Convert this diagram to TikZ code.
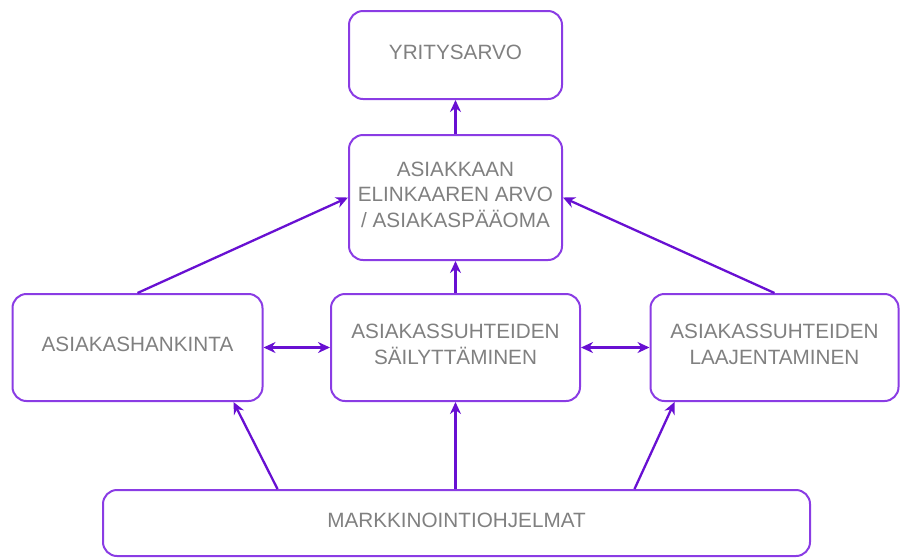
\documentclass[tikz,border=0pt]{standalone}
\usepackage{fontspec}
\setmainfont{Liberation Sans}
\usetikzlibrary{arrows.meta}
\definecolor{boxline}{RGB}{138,60,228}
\definecolor{arrowcol}{RGB}{104,16,210}
\definecolor{txt}{RGB}{128,128,128}
\tikzset{
  box/.style={draw=boxline, line width=2pt, rounded corners=14pt, align=center,
    text=txt, font=\fontsize{20.7}{25.5}\selectfont, inner sep=0pt, text depth=6pt},
  tipA/.tip={Stealth[length=12pt,width=11pt]},
  conn/.style={draw=arrowcol, line width=2.3pt, -tipA},
  dconn/.style={draw=arrowcol, line width=2.3pt, tipA-tipA}
}
\begin{document}
\begin{tikzpicture}
\useasboundingbox (0,0) rectangle (901pt,-558pt);
\begin{scope}[x=1pt,y=-1pt]
\node[box, minimum width=213pt, minimum height=88pt] (y) at (455.5,55) {YRITYSARVO};
\node[box, minimum width=213pt, minimum height=125pt] (e) at (455.5,197.5) {ASIAKKAAN\\ELINKAAREN ARVO\\/ ASIAKASPÄÄOMA};
\node[box, minimum width=250pt, minimum height=107pt] (h) at (137.5,347.5) {ASIAKASHANKINTA};
\node[box, minimum width=249pt, minimum height=107pt] (s) at (455.5,347.5) {ASIAKASSUHTEIDEN\\SÄILYTTÄMINEN};
\node[box, minimum width=248pt, minimum height=107pt] (l) at (774.5,347.5) {ASIAKASSUHTEIDEN\\LAAJENTAMINEN};
\node[box, minimum width=707pt, minimum height=66pt] (m) at (456.5,523) {MARKKINOINTIOHJELMAT};
\end{scope}
\draw[conn] (e.north) -- (y.south);
\draw[conn] (s.north) -- (e.south);
\draw[conn] (h.north) -- (e.west);
\draw[conn] (l.north) -- (e.east);
\draw[dconn] (h.east) -- (s.west);
\draw[dconn] (s.east) -- (l.west);
\draw[conn] ([xshift=-179pt]m.north) -- ([xshift=-30pt]h.south east);
\draw[conn] (m.north -| s.south) -- (s.south);
\draw[conn] ([xshift=178pt]m.north) -- ([xshift=25pt]l.south west);
\end{tikzpicture}
\end{document}
